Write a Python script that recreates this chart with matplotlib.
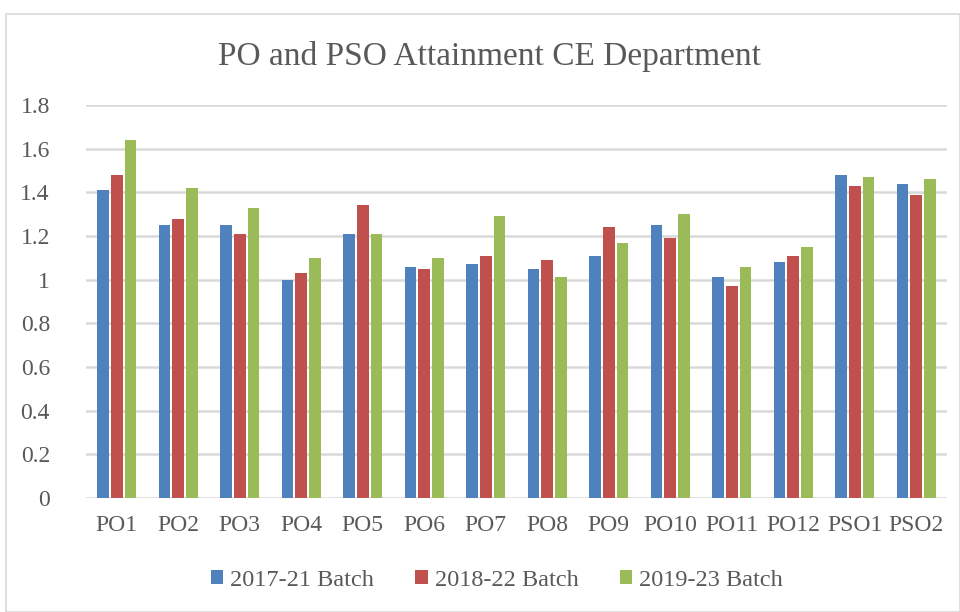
import matplotlib
matplotlib.use("Agg")
import matplotlib.pyplot as plt
import numpy as np
from matplotlib.patches import Rectangle

categories = ["PO1", "PO2", "PO3", "PO4", "PO5", "PO6", "PO7", "PO8", "PO9",
              "PO10", "PO11", "PO12", "PSO1", "PSO2"]
series_names = ["2017-21 Batch", "2018-22 Batch", "2019-23 Batch"]
batch_2017_21 = [1.41, 1.25, 1.25, 1.00, 1.21, 1.06, 1.07, 1.05, 1.11, 1.25, 1.01, 1.08, 1.48, 1.44]
batch_2018_22 = [1.48, 1.28, 1.21, 1.03, 1.34, 1.05, 1.11, 1.09, 1.24, 1.19, 0.97, 1.11, 1.43, 1.39]
batch_2019_23 = [1.64, 1.42, 1.33, 1.10, 1.21, 1.10, 1.29, 1.01, 1.17, 1.30, 1.06, 1.15, 1.47, 1.46]
y_ticks = [0, 0.2, 0.4, 0.6, 0.8, 1, 1.2, 1.4, 1.6, 1.8]
y_tick_labels = ["0", "0.2", "0.4", "0.6", "0.8", "1", "1.2", "1.4", "1.6", "1.8"]

colors = ["#4F81BD", "#C0504D", "#9BBB59"]
text_color = "#595959"
font = ["Liberation Serif", "DejaVu Serif"]

W, H = 960, 612
fig = plt.figure(figsize=(W / 100, H / 100), dpi=100)
fig.patch.set_facecolor("white")

# outer chart border
fig.add_artist(Rectangle((6 / W, 0), (W - 6) / W, (H - 14) / H, transform=fig.transFigure,
                         fill=False, edgecolor="#D9D9D9", linewidth=1.2))

left, right, bottom, top = 86, 947, 498, 105
ax = fig.add_axes([left / W, (H - bottom) / H, (right - left) / W, (bottom - top) / H])
x = np.arange(len(categories))
offsets = [-0.225, 0, 0.225]
for vals, off, c, name in zip([batch_2017_21, batch_2018_22, batch_2019_23], offsets, colors, series_names):
    ax.bar(x + off, vals, width=0.19, color=c, label=name, zorder=3)

ax.set_xlim(-0.5, len(categories) - 0.5)
ax.set_ylim(0, 1.8)
ax.set_yticks(y_ticks)
ax.set_yticklabels(y_tick_labels)
ax.set_xticks(x)
ax.set_xticklabels(categories)
ax.grid(axis="y", color="#D9D9D9", linewidth=1.8, zorder=0)
for s in ax.spines.values():
    s.set_visible(False)
ax.tick_params(length=0, labelsize=17, colors=text_color)
ax.tick_params(axis="y", pad=26)
ax.tick_params(axis="x", pad=12)
for lab in ax.get_xticklabels() + ax.get_yticklabels():
    lab.set_fontfamily(font)
    lab.set_color(text_color)

fig.text(490 / W, 1 - 56 / H, "PO and PSO Attainment CE Department", ha="center", va="center",
         fontsize=24, color=text_color, family=font)

fig.legend(loc="center", bbox_to_anchor=(497 / W, 1 - 580 / H), ncol=3, frameon=False,
           prop={"family": font, "size": 17.5}, labelcolor=text_color,
           handlelength=0.5, handleheight=0.5, handletextpad=0.3, columnspacing=1.7)

fig.savefig("out.png", dpi=100)
